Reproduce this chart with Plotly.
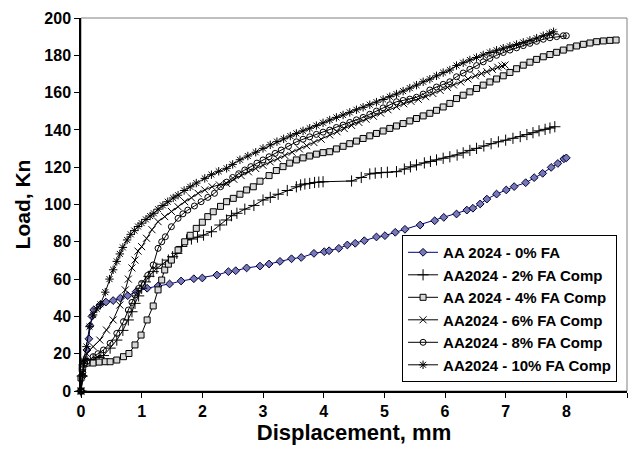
import plotly.graph_objects as go

# Load-displacement curves for AA2024 and fly-ash (FA) composites
names = [
    "AA 2024 - 0% FA",
    "AA2024 - 2% FA Comp",
    "AA 2024 - 4% FA Comp",
    "AA2024 - 6% FA Comp",
    "AA2024 - 8% FA Comp",
    "AA2024 - 10% FA Comp",
]

disp_0 = [0, 0.03, 0.07, 0.10, 0.13, 0.15, 0.18, 0.21, 0.31, 0.41, 0.53, 0.65, 0.77, 0.91,
          1.09, 1.27, 1.46, 1.65, 1.86, 2.00, 2.24, 2.43, 2.55, 2.73, 2.95, 3.10, 3.28, 3.47,
          3.63, 3.84, 4.01, 4.09, 4.25, 4.39, 4.52, 4.67, 4.87, 5.01, 5.18, 5.34, 5.59, 5.83,
          5.98, 6.19, 6.36, 6.46, 6.58, 6.69, 6.85, 7.01, 7.14, 7.33, 7.47, 7.61, 7.75, 7.86,
          7.96, 8.00]
load_0 = [0, 8, 16, 22, 28, 35, 40, 43.5, 46, 47.7, 48.5, 49.8, 51.1, 53.3,
          55.1, 56.3, 57.4, 59, 60.2, 60.6, 62.2, 64, 64.5, 66, 67, 68.1, 69.5, 70.9,
          71.6, 73.8, 74.7, 75.2, 76.5, 78.3, 79.2, 80.6, 82.6, 83.3, 85.1, 86.7, 89, 91.3,
          93.1, 94.9, 97, 98, 100.3, 102.9, 105.6, 107.8, 109.6, 111.7, 114.4, 116.7, 119.9, 122,
          124.5, 125]

disp_2 = [0, 0.02, 0.05, 0.10, 0.20, 0.30, 0.37, 0.48, 0.59, 0.69, 0.78, 0.84, 0.89, 0.95,
          1.00, 1.06, 1.12, 1.19, 1.25, 1.34, 1.44, 1.51, 1.58, 1.66, 1.74, 1.82, 1.92, 2.02,
          2.15, 2.29, 2.40, 2.48, 2.57, 2.70, 2.85, 3.00, 3.12, 3.25, 3.40, 3.55, 3.62, 3.69,
          3.77, 3.85, 3.92, 3.99, 4.46, 4.62, 4.76, 4.85, 4.95, 5.05, 5.20, 5.33, 5.43, 5.53,
          5.66, 5.76, 5.86, 5.97, 6.08, 6.20, 6.30, 6.41, 6.52, 6.64, 6.76, 6.88, 7.00, 7.12,
          7.24, 7.35, 7.45, 7.55, 7.65, 7.73, 7.81]
load_2 = [0, 8, 14, 16, 17, 18, 19, 23, 27.3, 32.5, 38.1, 42.5, 47, 51,
          55.1, 58.5, 61.5, 64, 65.8, 68, 70.2, 72, 73.8, 77.5, 81, 81.5, 82.5, 83.6,
          85.4, 89, 91.7, 94, 95.3, 97.5, 99.5, 102.4, 103.8, 105.5, 107.5, 109.5, 110.5, 111,
          111.3, 111.8, 112, 112.2, 112.6, 114.5, 116.4, 116.8, 117.1, 117.3, 117.6, 119, 120.2, 121.2,
          122.3, 123.1, 123.9, 124.8, 125.6, 126.5, 127.7, 129, 130.1, 131.4, 132.6, 133.6, 134.5, 135.5,
          136.4, 137.5, 138.5, 139.5, 140.3, 141, 141.7]

disp_4 = [0, 0.00, 0.02, 0.05, 0.10, 0.20, 0.30, 0.40, 0.48, 0.59, 0.70, 0.79, 0.89, 0.99,
          1.09, 1.19, 1.27, 1.33, 1.38, 1.44, 1.49, 1.60, 1.71, 1.80, 1.90, 2.00, 2.09, 2.18,
          2.30, 2.40, 2.51, 2.62, 2.73, 2.84, 2.95, 3.10, 3.22, 3.33, 3.44, 3.55, 3.66, 3.77,
          3.88, 3.99, 4.10, 4.21, 4.32, 4.43, 4.54, 4.65, 4.76, 4.87, 4.98, 5.09, 5.20, 5.31,
          5.42, 5.53, 5.64, 5.75, 5.86, 5.97, 6.08, 6.19, 6.30, 6.41, 6.52, 6.63, 6.74, 6.85,
          6.96, 7.07, 7.18, 7.29, 7.40, 7.51, 7.62, 7.73, 7.84, 7.95, 8.06, 8.17, 8.28, 8.39,
          8.50, 8.61, 8.72, 8.82]
load_4 = [0, 7, 12, 14.5, 15, 15, 15.5, 15.7, 15.7, 16.6, 18.4, 20.1, 24.7, 30,
          38.1, 45.6, 54.2, 59.5, 64.9, 68, 70.2, 75.6, 80, 83.5, 87.2, 90.5, 93.5, 96.1,
          99, 101.5, 103.3, 105.5, 107.8, 109.5, 112.5, 115.5, 118.2, 120.3, 122.2, 123.9, 125, 126,
          127, 127.8, 128.3, 129.8, 131.2, 132.6, 134, 135.4, 136.8, 138.1, 139.4, 140.8, 142.1, 143.4,
          144.8, 146.1, 147.5, 148.9, 150.5, 152.3, 154.2, 156.8, 158.6, 160.4, 162.2, 164, 165.7, 167.3,
          169, 170.8, 172.8, 174.7, 176.3, 177.8, 179.2, 180.4, 181.6, 182.8, 184, 185, 185.9, 186.6,
          187.3, 187.7, 188, 188.2]

disp_6 = [0, 0.03, 0.06, 0.09, 0.20, 0.31, 0.42, 0.53, 0.64, 0.73, 0.78, 0.84, 0.89, 0.94,
          1.00, 1.08, 1.17, 1.27, 1.38, 1.49, 1.60, 1.71, 1.82, 1.93, 2.04, 2.16, 2.28, 2.40,
          2.52, 2.64, 2.76, 2.88, 3.00, 3.12, 3.24, 3.36, 3.48, 3.60, 3.72, 3.84, 3.96, 4.10,
          4.22, 4.34, 4.46, 4.58, 4.70, 4.82, 4.94, 5.06, 5.20, 5.32, 5.44, 5.56, 5.68, 5.80,
          5.92, 6.04, 6.14, 6.26, 6.38, 6.50, 6.60, 6.69, 6.78, 6.87, 6.94, 6.99]
load_6 = [0, 10, 16, 20.2, 23.8, 27.3, 32.7, 38.1, 46.1, 54.2, 60, 66, 70.2, 75,
          77.4, 81.9, 86.5, 90.8, 93.5, 96.3, 98.8, 101.5, 103.6, 106, 107.8, 109.5, 110.5, 111.3,
          113.5, 115.5, 117.5, 119.3, 121, 122.8, 124.5, 126.3, 128, 129.8, 131.5, 133.2, 135, 137.3,
          139, 140.7, 142.4, 144, 145.7, 147.3, 149, 150.8, 152.5, 154, 155.3, 156.4, 157.8, 159.5,
          161.2, 162.8, 164.1, 165.7, 167.3, 169, 170.2, 171.2, 172.5, 173.6, 174.3, 174.8]

disp_8 = [0, 0.03, 0.06, 0.10, 0.20, 0.28, 0.37, 0.48, 0.59, 0.70, 0.78, 0.84, 0.89, 0.95,
          1.00, 1.10, 1.19, 1.27, 1.33, 1.39, 1.49, 1.60, 1.68, 1.76, 1.87, 1.98, 2.09, 2.20,
          2.30, 2.40, 2.50, 2.60, 2.70, 2.80, 2.90, 3.00, 3.10, 3.20, 3.30, 3.42, 3.55, 3.66,
          3.77, 3.88, 3.99, 4.10, 4.21, 4.32, 4.43, 4.54, 4.65, 4.76, 4.87, 4.98, 5.09, 5.20,
          5.31, 5.42, 5.53, 5.64, 5.75, 5.86, 5.97, 6.08, 6.19, 6.30, 6.41, 6.52, 6.63, 6.74,
          6.85, 6.96, 7.07, 7.18, 7.29, 7.40, 7.51, 7.62, 7.73, 7.84, 7.95, 8.00]
load_8 = [0, 10, 15, 16, 18.4, 20, 22, 25.6, 30.9, 37.2, 43.4, 47.5, 51.5, 55,
          57.7, 62, 67.6, 76.5, 80, 82.7, 88.1, 92.6, 95, 97, 99.2, 101.5, 103.8, 106,
          109.5, 112, 114.5, 116.5, 118.5, 120.3, 122.2, 123.9, 125.6, 127.4, 129.2, 131.2, 133.6, 135,
          136.3, 137.6, 138.8, 139.9, 141.3, 142.6, 144, 145.4, 146.7, 148.4, 150.1, 151.8, 153.5, 155.1,
          155.8, 156.5, 157.5, 159.2, 161.4, 163, 164.4, 165.8, 168.5, 170.5, 172.5, 174.5, 176.5, 178.3,
          180, 181.5, 182.8, 184, 185.2, 186.4, 187.5, 188.6, 189.4, 190, 190.5, 190.5]

disp_10 = [0, 0.02, 0.04, 0.09, 0.14, 0.20, 0.26, 0.32, 0.40, 0.47, 0.53, 0.59, 0.64, 0.69,
           0.76, 0.82, 0.88, 0.94, 1.00, 1.07, 1.14, 1.20, 1.27, 1.35, 1.43, 1.52, 1.60, 1.70,
           1.80, 1.90, 2.04, 2.15, 2.27, 2.40, 2.50, 2.62, 2.75, 2.88, 3.00, 3.12, 3.23, 3.34,
           3.45, 3.55, 3.66, 3.77, 3.88, 3.99, 4.10, 4.21, 4.32, 4.43, 4.54, 4.65, 4.76, 4.87,
           4.98, 5.09, 5.20, 5.31, 5.42, 5.53, 5.64, 5.75, 5.86, 5.97, 6.08, 6.19, 6.30, 6.41,
           6.52, 6.63, 6.74, 6.85, 6.96, 7.07, 7.18, 7.29, 7.40, 7.51, 7.62, 7.72, 7.79]
load_10 = [0, 8, 16, 23.8, 34.5, 40.8, 44, 46.5, 53, 60, 65, 69.5, 73.5, 77,
           81, 84, 86, 88.2, 90, 92, 93.8, 95.3, 97.5, 99.5, 101.5, 103.5, 105, 107.5,
           109.5, 111.5, 114, 116, 117.8, 119.4, 121.5, 124, 126, 128, 130.1, 132, 133.7, 135.2,
           136.7, 138.1, 139.5, 140.9, 142.3, 143.8, 145.3, 146.7, 148, 149.4, 150.8, 152.1, 153.5, 154.9,
           156.3, 157.8, 159.2, 160.8, 162.4, 164, 165.8, 167.2, 169, 170.7, 172.1, 174.5, 176, 177.5,
           178.8, 180.2, 181.5, 182.7, 183.8, 184.8, 185.8, 186.9, 188, 189.2, 190.5, 191.6, 192.6]

x_ticks = [0, 1, 2, 3, 4, 5, 6, 7, 8, 9]
y_ticks = [0, 20, 40, 60, 80, 100, 120, 140, 160, 180, 200]

series = [
    (disp_0, load_0, "#000080", dict(symbol="diamond", size=6, color="#7878b8",
                                     line=dict(color="#000030", width=1))),
    (disp_2, load_2, "black", dict(symbol="cross-thin-open", size=8,
                                   line=dict(color="black", width=1))),
    (disp_4, load_4, "black", dict(symbol="square", size=6, color="#d8d8d8",
                                   line=dict(color="black", width=1))),
    (disp_6, load_6, "black", dict(symbol="x-thin-open", size=7,
                                   line=dict(color="black", width=1))),
    (disp_8, load_8, "black", dict(symbol="circle-open", size=6, color="black",
                                   line=dict(color="black", width=1))),
    (disp_10, load_10, "black", dict(symbol="asterisk-open", size=7,
                                     line=dict(color="black", width=1))),
]

FONT = "Arial, 'Liberation Sans', sans-serif"

fig = go.Figure()
for name, (xs, ys, lc, mk) in zip(names, series):
    fig.add_trace(go.Scatter(
        x=xs, y=ys, name=name, mode="lines+markers",
        line=dict(color=lc, width=1),
        marker=mk, cliponaxis=False,
    ))

# grey frame along the top and right of the plotting area
fig.add_shape(type="rect", xref="paper", yref="paper", x0=0, y0=0, x1=1, y1=1,
              line=dict(color="#808080", width=1), layer="below")

fig.update_layout(
    width=631, height=449,
    margin=dict(l=81, r=4, t=18, b=58),
    paper_bgcolor="white", plot_bgcolor="white",
    font=dict(family=FONT, color="black", size=15),
    showlegend=True,
    legend=dict(
        x=0.588, y=0.024, xanchor="left", yanchor="bottom",
        bgcolor="white", bordercolor="black", borderwidth=1,
        font=dict(family=FONT, size=15, color="black", weight="bold"),
        itemwidth=30, tracegroupgap=0,
    ),
    xaxis=dict(
        range=[0, 9], tickvals=x_ticks, ticktext=[str(v) for v in x_ticks],
        showgrid=False, zeroline=False,
        showline=True, linecolor="black", linewidth=1.5,
        ticks="outside", ticklen=5, tickcolor="black", tickwidth=1,
        tickfont=dict(family=FONT, size=16, weight="bold"),
        title=dict(text="Displacement, mm", standoff=2,
                   font=dict(family=FONT, size=22, weight="bold")),
    ),
    yaxis=dict(
        range=[0, 200], tickvals=y_ticks, ticktext=[str(v) for v in y_ticks],
        showgrid=False, zeroline=False,
        showline=True, linecolor="black", linewidth=1.5,
        ticks="outside", ticklen=5, tickcolor="black", tickwidth=1,
        tickfont=dict(family=FONT, size=16, weight="bold"),
        title=dict(text="Load, Kn", standoff=8,
                   font=dict(family=FONT, size=21, weight="bold")),
    ),
)

fig.write_html("out.html")
